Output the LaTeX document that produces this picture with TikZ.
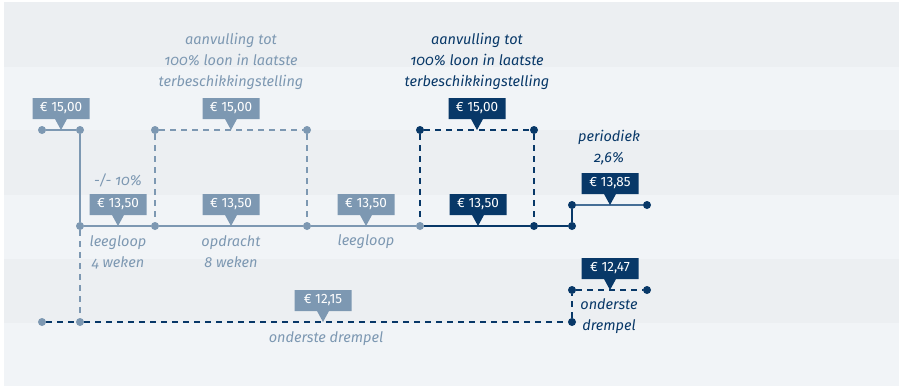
\documentclass[tikz,border=0pt]{standalone}
\usepackage{fontspec}
\setmainfont{Fira Sans}
\newfontfamily\annotfont[Numbers=OldStyle]{Fira Sans}
\usetikzlibrary{shapes.callouts}
\definecolor{lightc}{RGB}{125,152,178}
\definecolor{navy}{RGB}{8,56,104}
\definecolor{midc}{RGB}{70,110,150}
\definecolor{bandA}{RGB}{236,239,242}
\definecolor{bandB}{RGB}{241,244,247}
\tikzset{
  tagbox/.style={rectangle callout, inner sep=0pt, minimum width=57pt, minimum height=21pt,
    text=white, font=\fontsize{13.5}{15}\selectfont, callout pointer width=12pt},
  ltag/.style={tagbox, fill=lightc},
  dtag/.style={tagbox, fill=navy},
  dotnode/.style={circle, inner sep=0pt, minimum size=8pt},
  ldot/.style={dotnode, fill=lightc},
  ddot/.style={dotnode, fill=navy},
  lsolid/.style={draw=lightc, line width=1.4pt},
  dsolid/.style={draw=navy, line width=1.4pt},
  ldash/.style={draw=lightc, line width=1.2pt, dash pattern=on 6pt off 5pt},
  ddash/.style={draw=navy, line width=1.2pt, dash pattern=on 6pt off 5pt},
  annot/.style={align=center, font=\annotfont\itshape\fontsize{14.5}{21}\selectfont, inner sep=0pt},
  lannot/.style={annot, text=lightc},
  dannot/.style={annot, text=navy},
}
\begin{document}
\begin{tikzpicture}[x=1pt,y=-1pt]
\useasboundingbox (0,0) rectangle (899,386);
\fill[white] (0,0) rectangle (899,386);
\fill[bandA] (4,2) rectangle (899,67);
\fill[bandB] (4,67) rectangle (899,130);
\fill[bandA] (4,130) rectangle (899,195);
\fill[bandB] (4,195) rectangle (899,259);
\fill[bandA] (4,259) rectangle (899,323);
\fill[bandB] (4,323) rectangle (899,386);

% dots
\node[ldot] (a42) at (42,130) {};
\node[ldot] (a80) at (80,130) {};
\node[ldot] (a155) at (155,130) {};
\node[ldot] (a307) at (307,130) {};
\node[ddot] (a420) at (420,130) {};
\node[ddot] (a534) at (534,130) {};
\node[ldot] (b80) at (80,226) {};
\node[ldot] (b155) at (155,226) {};
\node[ldot] (b307) at (307,226) {};
\node[ldot] (b420) at (420,226) {};
\node[ddot] (b534) at (534,226) {};
\node[ddot] (b572) at (572,226) {};
\node[ddot] (c572) at (572,205) {};
\node[ddot] (c647) at (647,205) {};
\node[ddot] (e572) at (572,290) {};
\node[ddot] (e647) at (647,290) {};
\node[ldot] (d42) at (42,322) {};
\node[ldot] (d80) at (80,322) {};
\node[ddot] (d572) at (572,322) {};

% connectors
\draw[lsolid] (a42) -- (a80);
\draw[lsolid] (a80) -- (b80);
\draw[ldash] (a155) -- (a307);
\draw[ldash] (a155) -- (b155);
\draw[ldash] (a307) -- (b307);
\draw[lsolid] (b80) -- (b155);
\draw[lsolid] (b155) -- (b307);
\draw[lsolid] (b307) -- (b420);
\draw[ddash] (a420) -- (a534);
\draw[ddash] (a420) -- (b420);
\draw[ddash] (a534) -- (b534);
\draw[dsolid] (b420) -- (b534);
\draw[dsolid] (b534) -- (b572);
\draw[dsolid] (b572) -- (c572);
\draw[draw=midc, line width=1.4pt] (c572) -- (c647);
\draw[ldash] (b80) -- (d80);
\draw[ddash] (d42) -- (d80);
\draw[ddash] (d80) -- (d572);
\draw[ddash] (d572) -- (e572);
\draw[ddash] (e572) -- (e647);

% tags
\node[ltag, callout absolute pointer={(61,130)}] (t1) at (61,108.5) {€ 15,00};
\node[ltag, callout absolute pointer={(231,130)}] (t2) at (231,108.5) {€ 15,00};
\node[dtag, callout absolute pointer={(477,130)}] (t3) at (477,108.5) {€ 15,00};
\node[ltag, callout absolute pointer={(118,226)}] (t4) at (118,204.5) {€ 13,50};
\node[ltag, callout absolute pointer={(231,226)}] (t5) at (231,204.5) {€ 13,50};
\node[ltag, callout absolute pointer={(366,226)}] (t6) at (366,204.5) {€ 13,50};
\node[dtag, callout absolute pointer={(478,226)}] (t7) at (478,204.5) {€ 13,50};
\node[dtag, callout absolute pointer={(610,205)}] (t8) at (610,183.5) {€ 13,85};
\node[ltag, callout absolute pointer={(323,322)}] (t9) at (323,300.5) {€ 12,15};
\node[dtag, callout absolute pointer={(610,290)}] (t10) at (610,268.5) {€ 12,47};

% annotations
\node[lannot] (n1) at (231,61) {aanvulling tot\\100\% loon in laatste\\terbeschikkingstelling};
\node[dannot] (n2) at (477,61) {aanvulling tot\\100\% loon in laatste\\terbeschikkingstelling};
\node[dannot] (n3) at (609,148) {periodiek\\2,6\%};
\node[lannot] (n4) at (118,180) {-/- 10\%};
\node[lannot] (n5) at (118,252) {leegloop\\4 weken};
\node[lannot] (n6) at (231,252) {opdracht\\8 weken};
\node[lannot] (n7) at (366,242) {leegloop};
\node[lannot] (n8) at (326,339) {onderste drempel};
\node[dannot] (n9) at (609,316) {onderste\\drempel};
\end{tikzpicture}
\end{document}
